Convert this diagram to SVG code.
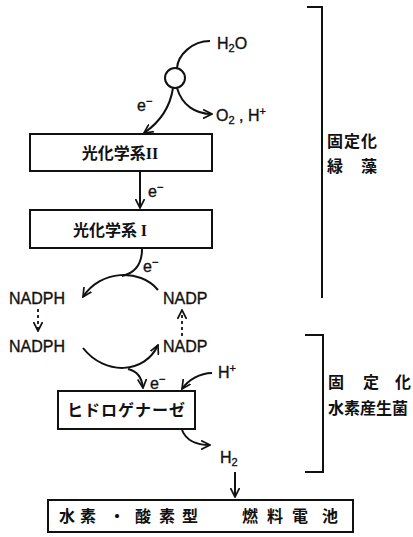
<svg xmlns="http://www.w3.org/2000/svg" width="413" height="537" viewBox="0 0 413 537">
<defs>
<marker id="ah" viewBox="0 0 10 10" refX="9" refY="5" markerWidth="10" markerHeight="10" markerUnits="userSpaceOnUse" orient="auto">
<path d="M0,0.5 L9,5 L0,9.5" fill="none" stroke="#111" stroke-width="1.7"/>
</marker>
</defs>
<style>
.ln{fill:none;stroke:#111;stroke-width:2}
.dl{fill:none;stroke:#111;stroke-width:1.8;stroke-dasharray:3 3}
.bx{fill:#fff;stroke:#111;stroke-width:2}
.lt{font-family:"Liberation Sans",Arial,sans-serif;font-size:16px;fill:#111;stroke:#111;stroke-width:0.35}
.jp{font-family:"Noto Sans CJK JP","Noto Sans CJK SC",sans-serif;font-size:16px;font-weight:bold;fill:#111}
.rn{font-family:"Liberation Serif",serif;font-weight:bold}
.sub{font-size:11px}
</style>
<g id="connectors">
<path class="ln" d="M210,41 C192,41 178,55 177,68"/>
<path class="ln" d="M173,88 C170,108 160,122 144,133" marker-end="url(#ah)"/>
<path class="ln" d="M177,88 C182,105 195,114 212,114" marker-end="url(#ah)"/>
<path class="ln" d="M140,172 L140,208" marker-end="url(#ah)"/>
<path class="ln" d="M142,249 C142,265 135,273 122,276"/>
<path class="ln" d="M158,290 C140,268 100,270 83,297" marker-end="url(#ah)"/>
<path class="dl" d="M38,309 L38,331" marker-end="url(#ah)"/>
<path class="dl" d="M182,336 L182,310" marker-end="url(#ah)"/>
<path class="ln" d="M83,348 C105,376 145,374 158,345" marker-end="url(#ah)"/>
<path class="ln" d="M128,369 C137,371 142,378 143,388" marker-end="url(#ah)"/>
<path class="ln" d="M212,373 C200,373 188,380 182,389" marker-end="url(#ah)"/>
<path class="ln" d="M182,430 C186,440 196,445 210,445" marker-end="url(#ah)"/>
<path class="ln" d="M235,472 L235,497" marker-end="url(#ah)"/>
</g>
<g id="water-split">
<circle cx="175" cy="78" r="10" class="bx"/>
<text class="lt" x="217" y="49">H<tspan class="sub" dy="3">2</tspan><tspan dy="-3">O</tspan></text>
<text class="lt" x="137" y="111">e<tspan class="sub" dy="-6">−</tspan></text>
<text class="lt" x="216" y="121">O<tspan class="sub" dy="3">2</tspan><tspan dy="-3"> , H</tspan><tspan class="sub" dy="-6">+</tspan></text>
</g>
<g id="ps2">
<rect class="bx" x="30" y="134" width="182" height="37"/>
<text class="jp" x="120" y="159" text-anchor="middle">光化学系<tspan class="rn">II</tspan></text>
</g>
<g id="e1"><text class="lt" x="148" y="197">e<tspan class="sub" dy="-6">−</tspan></text></g>
<g id="ps1">
<rect class="bx" x="30" y="210" width="182" height="38"/>
<text class="jp" x="110" y="236" text-anchor="middle">光化学系 <tspan class="rn">I</tspan></text>
</g>
<g id="e2"><text class="lt" x="143" y="272">e<tspan class="sub" dy="-6">−</tspan></text></g>
<g id="nadph1"><text class="lt" x="9" y="304">NADPH</text></g>
<g id="nadp1"><text class="lt" x="163" y="304">NADP</text></g>
<g id="nadph2"><text class="lt" x="9" y="352">NADPH</text></g>
<g id="nadp2"><text class="lt" x="163" y="352">NADP</text></g>
<g id="e3"><text class="lt" x="150" y="389">e<tspan class="sub" dy="-6">−</tspan></text></g>
<g id="hplus"><text class="lt" x="218" y="378">H<tspan class="sub" dy="-6">+</tspan></text></g>
<g id="hydrogenase">
<rect class="bx" x="58" y="391" width="137" height="38"/>
<text class="jp" x="67" y="416" letter-spacing="1">ヒドロゲナーゼ</text>
</g>
<g id="h2"><text class="lt" x="220" y="463">H<tspan class="sub" dy="3">2</tspan></text></g>
<g id="fuelcell">
<rect class="bx" x="48" y="500" width="305" height="32"/>
<text class="jp" y="522" text-anchor="middle"><tspan x="67">水</tspan><tspan x="88">素</tspan><tspan x="117">・</tspan><tspan x="143">酸</tspan><tspan x="167">素</tspan><tspan x="190">型</tspan><tspan x="250">燃</tspan><tspan x="275">料</tspan><tspan x="300">電</tspan><tspan x="330">池</tspan></text>
</g>
<g id="bracket-algae">
<path class="ln" d="M307,7 L322,7 L322,298"/>
<text class="jp" x="327" y="147" letter-spacing="1">固定化</text>
<text class="jp" x="327" y="172"><tspan>緑</tspan><tspan x="361">藻</tspan></text>
</g>
<g id="bracket-bacteria">
<path class="ln" d="M305,335 L323,335 L323,472 L305,472"/>
<text class="jp" y="388"><tspan x="328">固</tspan><tspan x="363">定</tspan><tspan x="395">化</tspan></text>
<text class="jp" x="328" y="414">水素産生菌</text>
</g>
</svg>
